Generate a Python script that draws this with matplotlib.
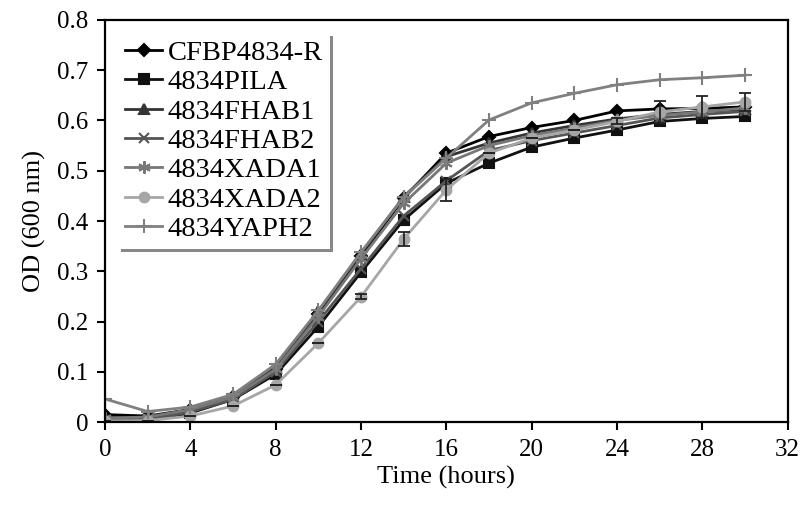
import matplotlib.pyplot as plt
from matplotlib.ticker import FuncFormatter

hours = [0, 2, 4, 6, 8, 10, 12, 14, 16, 18, 20, 22, 24, 26, 28, 30]

cfbp4834_r = [0.015, 0.012, 0.025, 0.050, 0.105, 0.215, 0.330, 0.445, 0.535, 0.568, 0.586, 0.600, 0.619, 0.623, 0.624, 0.627]
pila = [0.003, 0.002, 0.018, 0.045, 0.095, 0.190, 0.298, 0.402, 0.475, 0.515, 0.547, 0.565, 0.581, 0.598, 0.604, 0.608]
fhab1 = [0.010, 0.008, 0.025, 0.052, 0.108, 0.220, 0.335, 0.448, 0.528, 0.555, 0.575, 0.590, 0.603, 0.612, 0.618, 0.622]
fhab2 = [0.005, 0.005, 0.020, 0.045, 0.100, 0.200, 0.305, 0.410, 0.480, 0.540, 0.560, 0.575, 0.590, 0.605, 0.612, 0.618]
xada1 = [0.008, 0.010, 0.025, 0.050, 0.105, 0.210, 0.325, 0.435, 0.515, 0.550, 0.570, 0.585, 0.600, 0.610, 0.617, 0.625]
xada2 = [0.002, 0.003, 0.012, 0.032, 0.074, 0.157, 0.249, 0.364, 0.462, 0.535, 0.565, 0.581, 0.598, 0.617, 0.627, 0.637]
yaph2 = [0.046, 0.021, 0.030, 0.055, 0.115, 0.222, 0.338, 0.447, 0.525, 0.601, 0.635, 0.654, 0.671, 0.681, 0.685, 0.690]
xada2_err = [0, 0, 0, 0, 0, 0, 0.005, 0.014, 0.022, 0, 0, 0, 0.006, 0.022, 0.022, 0.018]

series = [
    ('CFBP4834-R', cfbp4834_r, '#000000', 'D', 6),
    ('4834PILA', pila, '#111111', 's', 6.5),
    ('4834FHAB1', fhab1, '#333333', '^', 7),
    ('4834FHAB2', fhab2, '#555555', 'x', 7),
    ('4834XADA1', xada1, '#777777', (6, 2, 0), 9),
    ('4834XADA2', xada2, '#a6a6a6', 'o', 7),
    ('4834YAPH2', yaph2, '#808080', '+', 10),
]

plt.rcParams['font.family'] = 'Liberation Serif'

fig = plt.figure(figsize=(8.04, 5.11), dpi=100)
ax = fig.add_axes([0.1306, 0.174, 0.849, 0.787])

for name, vals, color, marker, ms in series:
    ax.plot(hours, vals, color=color, marker=marker, markersize=ms,
            linewidth=2, markeredgewidth=1.5, label=name)
ax.errorbar(hours, xada2, yerr=xada2_err, fmt='none', ecolor='#222222',
            elinewidth=1.3, capsize=4, capthick=1.3)

ax.set_xlim(0, 32)
ax.set_ylim(0, 0.8)
ax.set_xticks(range(0, 33, 4))
ax.set_yticks([i / 10 for i in range(9)])
ax.yaxis.set_major_formatter(FuncFormatter(lambda v, p: '0' if v == 0 else f'{v:.1f}'))
ax.tick_params(direction='out', length=6, width=1.5, labelsize=18, pad=6)
for s in ax.spines.values():
    s.set_linewidth(1.6)

ax.set_xlabel('Time (hours)', fontsize=19, labelpad=4)
ax.set_ylabel('OD (600 nm)', fontsize=19, labelpad=8)

# gray line only on right/bottom edges, like the original's box shadow
leg = ax.legend(loc='upper left', bbox_to_anchor=(0.019, 0.968), borderaxespad=0,
                fontsize=20.5, handlelength=1.3, handletextpad=0.2,
                labelspacing=0.12, borderpad=0.25, frameon=True, fancybox=False,
                framealpha=1, shadow={'color': '#888888', 'alpha': 1})
leg.get_frame().set_edgecolor('white')
leg.get_frame().set_linewidth(0)

plt.savefig('out.png', dpi=100)
